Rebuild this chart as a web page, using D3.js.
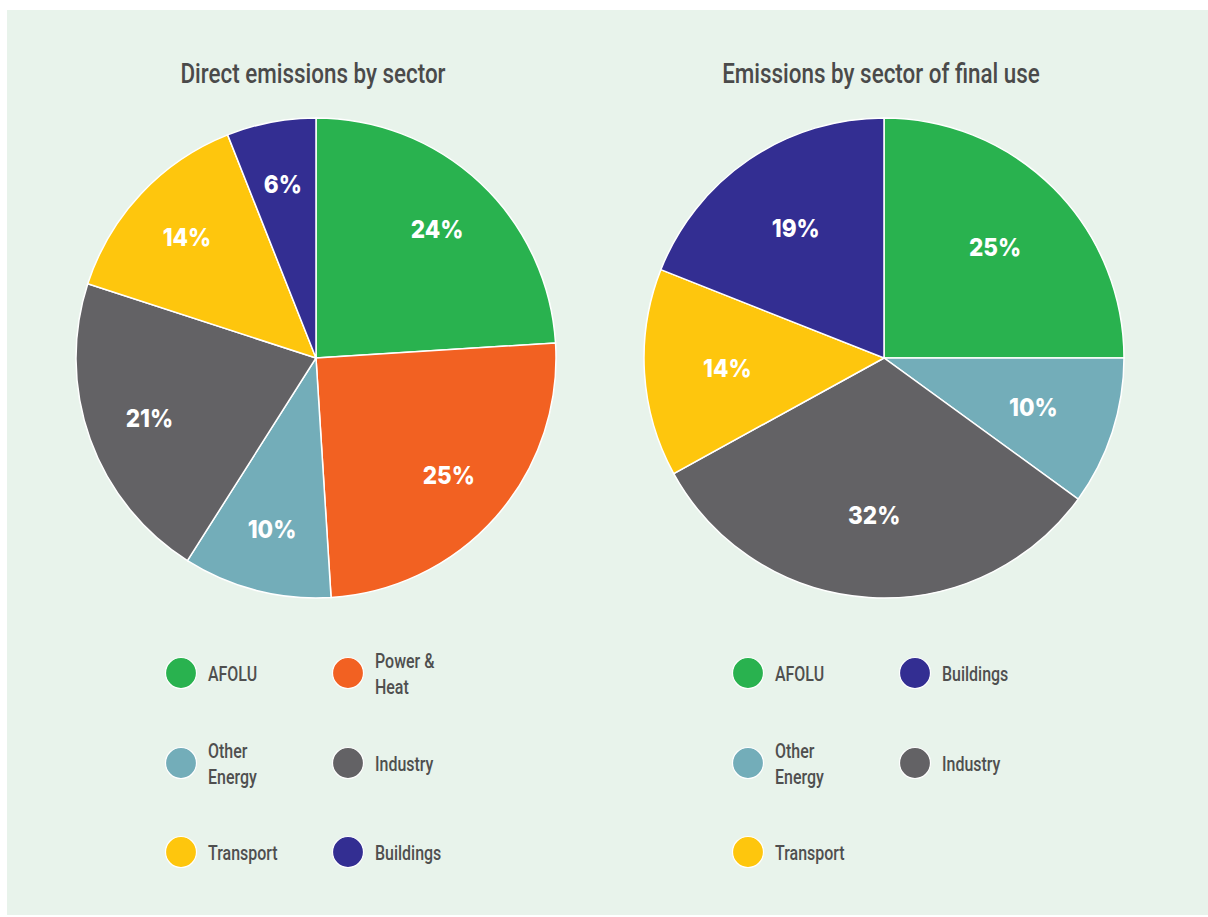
<!DOCTYPE html>
<html><head><meta charset="utf-8">
<script src="https://cdn.jsdelivr.net/npm/d3@7"></script>
<style>
html,body{margin:0;padding:0;background:#fff;}
svg{display:block;}
</style></head>
<body>
<script>
const leftTitle = "Direct emissions by sector";
const leftCategories = ["AFOLU","Power & Heat","Other Energy","Industry","Transport","Buildings"];
const leftValues = [24,25,10,21,14,6];
const rightTitle = "Emissions by sector of final use";
const rightCategories = ["AFOLU","Other Energy","Industry","Transport","Buildings"];
const rightValues = [25,10,32,14,19];
const leftLegendLabels = [["AFOLU"],["Power &","Heat"],["Other","Energy"],["Industry"],["Transport"],["Buildings"]];
const leftLegendKeys = ["AFOLU","Power & Heat","Other Energy","Industry","Transport","Buildings"];
const rightLegendLabels = [["AFOLU"],["Buildings"],["Other","Energy"],["Industry"],["Transport"]];
const rightLegendKeys = ["AFOLU","Buildings","Other Energy","Industry","Transport"];

const color = d3.scaleOrdinal()
  .domain(["AFOLU","Power & Heat","Other Energy","Industry","Transport","Buildings"])
  .range(["#29b24f","#f26122","#73adb9","#636265","#fec60d","#332e92"]);

const W=1208,H=917;
const svg=d3.select("body").append("svg").attr("width",W).attr("height",H);
svg.append("rect").attr("x",7).attr("y",10).attr("width",1201).attr("height",905).attr("fill","#e8f3eb");

const textFont = "'Roboto',sans-serif";
const labelFont = "'Inter','Lato',sans-serif";

function squeeze(sel,f){
  sel.each(function(){
    const n=this; const L=n.getComputedTextLength();
    d3.select(n).attr("textLength",L*f).attr("lengthAdjust","spacingAndGlyphs");
  });
}

function drawPie(cx,cy,R,title,cats,vals,labelR){
  const g=svg.append("g").attr("transform",`translate(${cx},${cy})`);
  const t=svg.append("text").attr("x",cx-3).attr("y",83).attr("text-anchor","middle")
    .attr("font-family",textFont).attr("font-weight",500).attr("font-size",28).attr("fill","#4a4a4a").text(title);
  squeeze(t,0.8);
  const pie=d3.pie().sort(null).value(d=>d.v);
  const data=pie(cats.map((c,i)=>({c,v:vals[i]})));
  const arc=d3.arc().innerRadius(0).outerRadius(R);
  const lab=d3.arc().innerRadius(labelR).outerRadius(labelR);
  g.selectAll("path").data(data).join("path").attr("d",arc)
    .attr("fill",d=>color(d.data.c)).attr("stroke","#fff").attr("stroke-width",1.5);
  const lt=g.selectAll("text").data(data).join("text")
    .attr("transform",d=>`translate(${lab.centroid(d)})`)
    .attr("text-anchor","middle").attr("dy","0.36em")
    .attr("font-family",labelFont).attr("font-weight",800).attr("font-size",25)
    .attr("fill","#fff").text(d=>d.data.v+"%");
  squeeze(lt,0.9);
}
drawPie(316,358,240,leftTitle,leftCategories,leftValues,177);
drawPie(884,358,240,rightTitle,rightCategories,rightValues,157);

function drawLegend(x0,keys,labels){
  const colX=[x0,x0+167], rowY=[673,763,852];
  keys.forEach((k,i)=>{
    const x=colX[i%2], y=rowY[Math.floor(i/2)];
    svg.append("circle").attr("cx",x).attr("cy",y).attr("r",15.5)
      .attr("fill",color(k)).attr("stroke","#fff").attr("stroke-width",1.2);
    const ls=labels[i];
    ls.forEach((l,j)=>{
      const t=svg.append("text").attr("x",x+27).attr("y",y+8+(j-(ls.length-1)/2)*26)
        .attr("font-family",textFont).attr("font-weight",500).attr("font-size",21).attr("fill","#4f4f4f").text(l);
      squeeze(t,0.76);
    });
  });
}
drawLegend(181,leftLegendKeys,leftLegendLabels);
drawLegend(748,rightLegendKeys,rightLegendLabels);
</script>
</body></html>
